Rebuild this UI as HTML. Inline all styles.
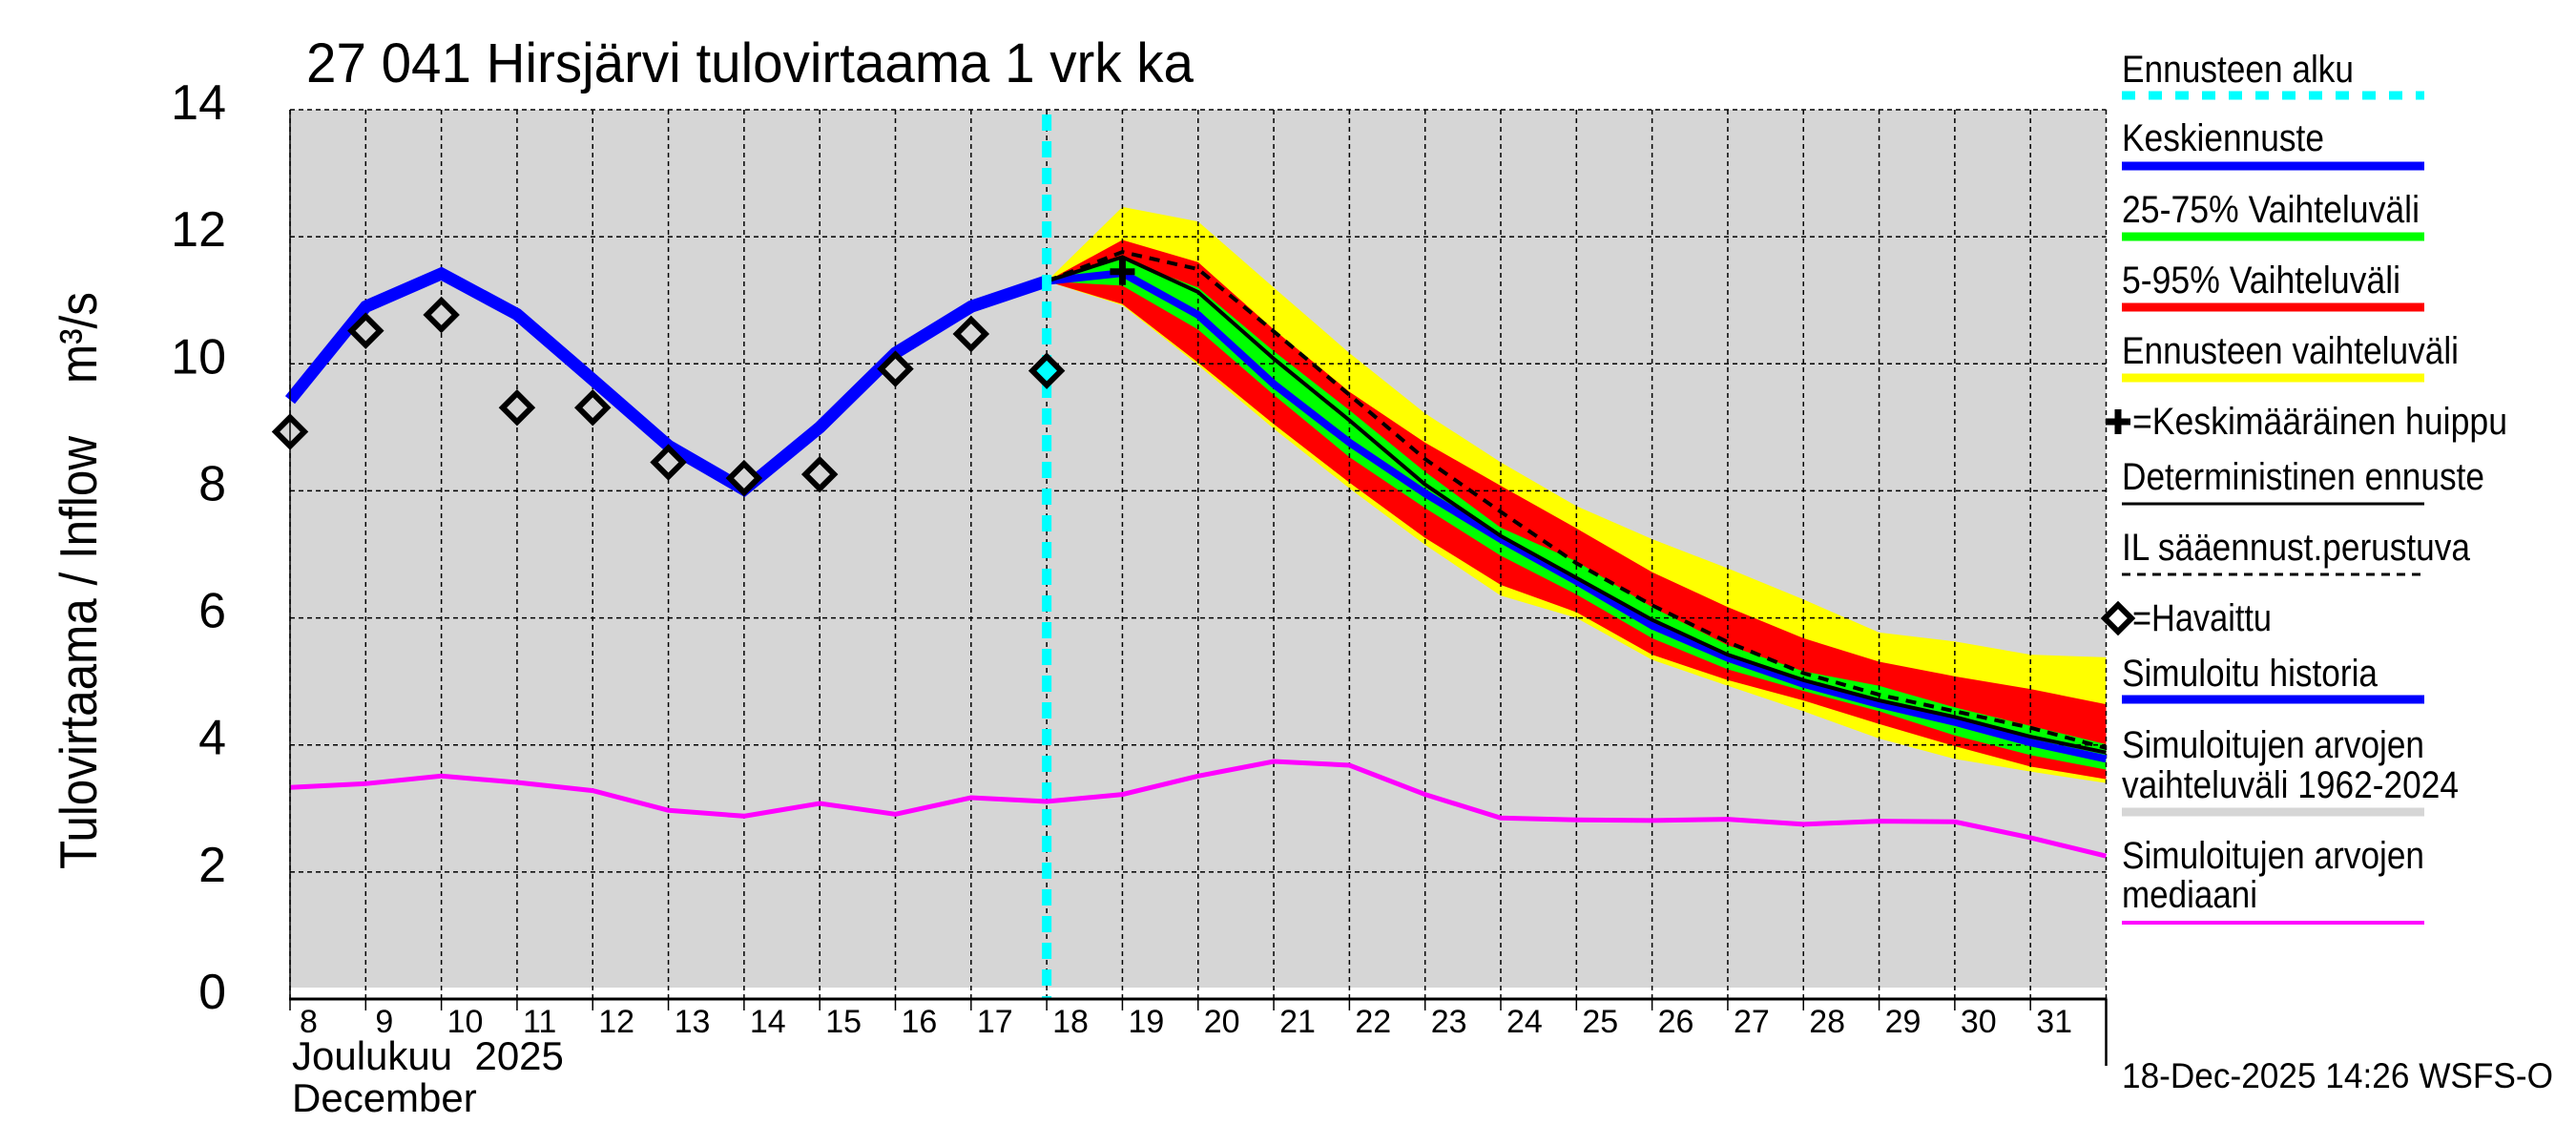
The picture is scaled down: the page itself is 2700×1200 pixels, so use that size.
<!DOCTYPE html>
<html><head><meta charset="utf-8"><style>
html,body{margin:0;padding:0;background:#fff;}
svg{display:block;font-family:"Liberation Sans",sans-serif;}
text{white-space:pre;}
</style></head><body>
<svg id="chart" width="2700" height="1200" viewBox="0 0 2700 1200" xmlns="http://www.w3.org/2000/svg" xml:space="preserve">
<text transform="translate(321,86) scale(1,1.12)" x="0" y="0" font-size="52" textLength="930" lengthAdjust="spacingAndGlyphs">27 041 Hirsjärvi tulovirtaama 1 vrk ka</text>
<text transform="translate(101,911) rotate(-90) scale(1,1.1)" font-size="50" textLength="605" lengthAdjust="spacingAndGlyphs">Tulovirtaama / Inflow    m³/s</text>
<g id="plot"></g>
<text x="306" y="1121" font-size="42">Joulukuu  2025</text>
<text x="306" y="1165" font-size="42">December</text>
<text x="2224" y="1140" font-size="37" textLength="452" lengthAdjust="spacingAndGlyphs">18-Dec-2025 14:26 WSFS-O</text>
<g font-size="40">
 <text x="2224" y="86" textLength="243" lengthAdjust="spacingAndGlyphs">Ennusteen alku</text>
 <line x1="2224" y1="100" x2="2541" y2="100" stroke="#00ffff" stroke-width="9" stroke-dasharray="14,14"/>
 <text x="2224" y="158" textLength="212" lengthAdjust="spacingAndGlyphs">Keskiennuste</text>
 <line x1="2224" y1="174" x2="2541" y2="174" stroke="#0000ff" stroke-width="9"/>
 <text x="2224" y="233" textLength="312" lengthAdjust="spacingAndGlyphs">25-75% Vaihteluväli</text>
 <line x1="2224" y1="248" x2="2541" y2="248" stroke="#00ff00" stroke-width="9"/>
 <text x="2224" y="307" textLength="292" lengthAdjust="spacingAndGlyphs">5-95% Vaihteluväli</text>
 <line x1="2224" y1="322" x2="2541" y2="322" stroke="#ff0000" stroke-width="9"/>
 <text x="2224" y="381" textLength="353" lengthAdjust="spacingAndGlyphs">Ennusteen vaihteluväli</text>
 <line x1="2224" y1="396" x2="2541" y2="396" stroke="#ffff00" stroke-width="9"/>
 <path d="M2207,442 h26 M2220,429 v26" stroke="#000" stroke-width="7"/>
 <text x="2235" y="455" textLength="393" lengthAdjust="spacingAndGlyphs">=Keskimääräinen huippu</text>
 <text x="2224" y="513" textLength="380" lengthAdjust="spacingAndGlyphs">Deterministinen ennuste</text>
 <line x1="2224" y1="528" x2="2541" y2="528" stroke="#000" stroke-width="3"/>
 <text x="2224" y="587" textLength="365" lengthAdjust="spacingAndGlyphs">IL sääennust.perustuva</text>
 <line x1="2224" y1="602" x2="2541" y2="602" stroke="#000" stroke-width="3" stroke-dasharray="9,7"/>
 <path d="M2220,634 L2234,648 L2220,662 L2206,648 Z" fill="#fff" stroke="#000" stroke-width="6"/>
 <text x="2235" y="661" textLength="146" lengthAdjust="spacingAndGlyphs">=Havaittu</text>
 <text x="2224" y="719" textLength="268" lengthAdjust="spacingAndGlyphs">Simuloitu historia</text>
 <line x1="2224" y1="733" x2="2541" y2="733" stroke="#0000ff" stroke-width="9"/>
 <text x="2224" y="794" textLength="317" lengthAdjust="spacingAndGlyphs">Simuloitujen arvojen</text>
 <text x="2224" y="836" textLength="353" lengthAdjust="spacingAndGlyphs">vaihteluväli 1962-2024</text>
 <line x1="2224" y1="851" x2="2541" y2="851" stroke="#d6d6d6" stroke-width="9"/>
 <text x="2224" y="910" textLength="317" lengthAdjust="spacingAndGlyphs">Simuloitujen arvojen</text>
 <text x="2224" y="951" textLength="142" lengthAdjust="spacingAndGlyphs">mediaani</text>
 <line x1="2224" y1="967" x2="2541" y2="967" stroke="#ff00ff" stroke-width="4"/>
</g>
</svg>
<script>
const histDays = [8,9,10,11,12,13,14,15,16,17,18];
const simHistory = [9.43,10.9,11.42,10.78,9.75,8.71,8.02,9.0,10.17,10.9,11.3];
const obsValues = [8.93,10.52,10.77,9.31,9.31,8.45,8.2,8.26,9.92,10.47,9.89];
const medDays = [8,9,10,11,12,13,14,15,16,17,18,19,20,21,22,23,24,25,26,27,28,29,30,31,32];
const medianValues = [3.33,3.39,3.51,3.41,3.28,2.97,2.88,3.08,2.91,3.17,3.11,3.22,3.51,3.74,3.68,3.22,2.85,2.82,2.81,2.83,2.75,2.8,2.79,2.54,2.25];
const fcDays = [18,19,20,21,22,23,24,25,26,27,28,29,30,31,32];
const yellowTop = [11.3,12.47,12.24,11.2,10.17,9.22,8.45,7.76,7.24,6.78,6.29,5.77,5.63,5.42,5.38];
const redTop = [11.3,11.95,11.6,10.54,9.56,8.76,8.08,7.41,6.72,6.17,5.68,5.31,5.08,4.88,4.64];
const greenTop = [11.3,11.65,11.2,10.2,9.27,8.3,7.42,6.89,6.17,5.57,5.16,4.93,4.59,4.3,4.01];
const greenBot = [11.3,11.23,10.54,9.51,8.53,7.73,6.98,6.37,5.68,5.19,4.85,4.53,4.15,3.84,3.61];
const redBot = [11.3,10.94,10.02,9.05,8.13,7.26,6.52,6.09,5.42,5.02,4.7,4.33,3.98,3.66,3.46];
const yellowBot = [11.3,10.92,9.98,8.98,8.04,7.15,6.35,6.0,5.34,4.93,4.53,4.1,3.78,3.58,3.4];
const meanFc = [11.3,11.43,10.77,9.68,8.76,7.96,7.24,6.58,5.88,5.37,4.96,4.64,4.36,4.04,3.78];
const detFc = [11.3,11.68,11.13,10.08,9.11,8.1,7.29,6.63,5.97,5.42,5.02,4.7,4.44,4.13,3.88];
const ilFc = [11.3,11.76,11.49,10.51,9.51,8.5,7.67,6.86,6.2,5.62,5.13,4.79,4.53,4.27,3.95];
const peakDay = [19];
const peakValue = [11.45];
const forecastStart = [18];
const yTicks = [0,2,4,6,8,10,12,14];
const xTicks = [8,9,10,11,12,13,14,15,16,17,18,19,20,21,22,23,24,25,26,27,28,29,30,31];

const X0=304, X1=2207.5, Y0=1047, Y1=115;
const xs = d => X0 + (d-8)*(X1-X0)/24;
const ys = v => Y0 - v*(Y0-Y1)/14;
const NS='http://www.w3.org/2000/svg';
const plot=document.getElementById('plot');
function mk(tag, attrs){const e=document.createElementNS(NS,tag);for(const k in attrs)e.setAttribute(k,attrs[k]);plot.appendChild(e);return e;}
function pts(days, vals){return days.map((d,i)=>xs(d).toFixed(1)+','+ys(vals[i]).toFixed(1)).join(' ');}
function band(days, top, bot){return days.map((d,i)=>xs(d)+','+ys(top[i])).concat(days.slice().reverse().map((d,j)=>xs(d)+','+ys(bot[days.length-1-j]))).join(' ');}

let e;
e=mk('rect',{x:X0,y:Y1,width:X1-X0,height:ys(0.18)-Y1,fill:'#d6d6d6'});


e=mk('polygon',{points:band(fcDays,yellowTop,yellowBot),fill:'#ffff00'});


e=mk('polygon',{points:band(fcDays,redTop,redBot),fill:'#ff0000'});


e=mk('polygon',{points:band(fcDays,greenTop,greenBot),fill:'#00ff00'});


yTicks.forEach(v=>{
  if(v===0) return;
  e=mk('line',{x1:X0,x2:X1,y1:ys(v),y2:ys(v),stroke:'#000','stroke-width':1.5,'stroke-dasharray':'5,4'});
  
  
});
xTicks.concat([32]).forEach(d=>{
  e=mk('line',{x1:xs(d),x2:xs(d),y1:Y1,y2:Y0,stroke:'#000','stroke-width':1.5,'stroke-dasharray':'5,4'});
  
  
});
e=mk('polyline',{points:pts(medDays,medianValues),fill:'none',stroke:'#ff00ff','stroke-width':5});


e=mk('polyline',{points:pts(histDays,simHistory),fill:'none',stroke:'#0000ff','stroke-width':13,'stroke-linejoin':'miter'});


e=mk('polyline',{points:pts(fcDays,meanFc),fill:'none',stroke:'#0000ff','stroke-width':8});


e=mk('polyline',{points:pts(fcDays,detFc),fill:'none',stroke:'#000','stroke-width':4});


e=mk('polyline',{points:pts(fcDays,ilFc),fill:'none',stroke:'#000','stroke-width':4,'stroke-dasharray':'11,8'});


e=mk('line',{x1:xs(forecastStart[0]),x2:xs(forecastStart[0]),y1:Y1+5,y2:Y0,stroke:'#00ffff','stroke-width':10,'stroke-dasharray':'17,11'});


histDays.forEach((d,i)=>{
  const cx=xs(d), cy=ys(obsValues[i]), r=15;
  e=mk('polygon',{points:`${cx},${cy-r} ${cx+r},${cy} ${cx},${cy+r} ${cx-r},${cy}`,fill:d===forecastStart[0]?'#00ffff':'#d6d6d6',stroke:'#000','stroke-width':6});
  
  
});
peakDay.forEach((d,i)=>{
  const cx=xs(d), cy=ys(peakValue[i]);
  e=mk('path',{d:`M${cx-13},${cy} h26 M${cx},${cy-14} v28`,stroke:'#000','stroke-width':7});
  
  
});
e=mk('line',{x1:X0,x2:X0,y1:Y1,y2:Y0,stroke:'#000','stroke-width':1.5});


e=mk('line',{x1:X0-1,x2:X1+1,y1:Y0,y2:Y0,stroke:'#000','stroke-width':3});


e=mk('line',{x1:X1,x2:X1,y1:Y0,y2:1117,stroke:'#000','stroke-width':2.5});


yTicks.forEach(v=>{
  e=mk('text',{x:237,y:ys(v)+10,'font-size':52,'text-anchor':'end'});
  e.textContent=v;
  
  
});
xTicks.forEach(d=>{
  e=mk('line',{x1:xs(d),x2:xs(d),y1:Y0,y2:Y0+12,stroke:'#000','stroke-width':1.5});
  
  
  e=mk('text',{x:xs(d)+ (d<10?10:6),y:1082,'font-size':34});
  e.textContent=d;
  
  
});
</script>
</body></html>
